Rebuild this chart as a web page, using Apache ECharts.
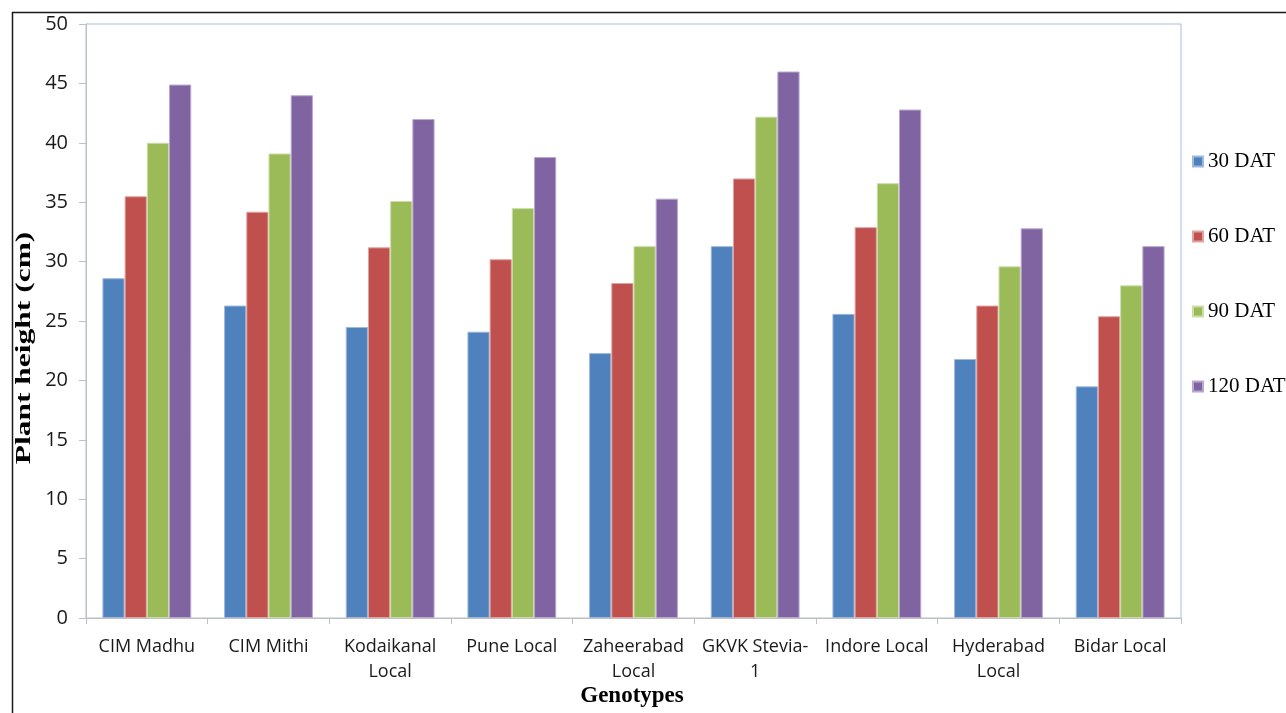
<!DOCTYPE html>
<html>
<head>
<meta charset="utf-8">
<script src="https://cdn.jsdelivr.net/npm/echarts@6/dist/echarts.min.js"></script>
<style>
  html, body { margin: 0; padding: 0; background: #fff; }
  #chart { width: 1286px; height: 713px; }
</style>
</head>
<body>
<div id="chart"></div>
<script>
// Plant height (cm) of stevia genotypes at four stages after transplanting
const genotypes = ['CIM Madhu', 'CIM Mithi', 'Kodaikanal\nLocal', 'Pune Local', 'Zaheerabad\nLocal',
                   'GKVK Stevia-\n1', 'Indore Local', 'Hyderabad\nLocal', 'Bidar Local'];
const stageNames = ['30 DAT', '60 DAT', '90 DAT', '120 DAT'];
const dat30  = [28.6, 26.3, 24.5, 24.1, 22.3, 31.3, 25.6, 21.8, 19.5];
const dat60  = [35.5, 34.2, 31.2, 30.2, 28.2, 37.0, 32.9, 26.3, 25.4];
const dat90  = [40.0, 39.1, 35.1, 34.5, 31.3, 42.2, 36.6, 29.6, 28.0];
const dat120 = [44.9, 44.0, 42.0, 38.8, 35.3, 46.0, 42.8, 32.8, 31.3];
const yTicks = [0, 5, 10, 15, 20, 25, 30, 35, 40, 45, 50];

const seriesValues = [dat30, dat60, dat90, dat120];
const fills = ['#4F81BD', '#C0504D', '#9BBB59', '#8064A2'];
const edges = ['#9DB8DC', '#E0A3A1', '#CADDA8', '#B9A7CF'];

const chart = echarts.init(document.getElementById('chart'), null, { renderer: 'canvas' });

const serif = '"Liberation Serif", "Times New Roman", serif';
const sans = '"Open Sans", "Noto Sans", sans-serif';

chart.setOption({
  animation: false,
  backgroundColor: '#ffffff',
  grid: {
    left: 86, right: 105, top: 24, bottom: 95,
    show: true, borderColor: '#A7BFDE', borderWidth: 1, backgroundColor: 'transparent'
  },
  legend: {
    orient: 'vertical',
    left: 1187, top: 146,
    itemWidth: 10, itemHeight: 10, itemGap: 54,
    icon: 'rect',
    textStyle: { fontFamily: serif, fontSize: 21, color: '#000', lineHeight: 21 },
    data: stageNames
  },
  xAxis: {
    type: 'category',
    data: genotypes,
    axisLine: { lineStyle: { color: '#BFBFBF', width: 1 } },
    axisTick: { show: true, length: 6, lineStyle: { color: '#BFBFBF' } },
    axisLabel: {
      interval: 0, margin: 16,
      fontFamily: sans, fontSize: 18, color: '#1a1a1a', lineHeight: 25
    }
  },
  yAxis: {
    type: 'value',
    min: yTicks[0], max: yTicks[yTicks.length - 1], interval: yTicks[1] - yTicks[0],
    axisLine: { show: true, lineStyle: { color: '#BFBFBF', width: 1 } },
    axisTick: { show: true, length: 7, lineStyle: { color: '#BFBFBF' } },
    splitLine: { show: false },
    axisLabel: { margin: 18, fontFamily: sans, fontSize: 20, color: '#1a1a1a' }
  },
  series: seriesValues.map((vals, i) => ({
    name: stageNames[i],
    type: 'bar',
    data: vals,
    barGap: '0%',
    barCategoryGap: '27%',
    itemStyle: { color: fills[i], borderColor: edges[i], borderWidth: 1 }
  })),
  graphic: [
    {
      type: 'rect', left: 10, top: 10, silent: true,
      shape: { width: 1300, height: 720 },
      style: { fill: 'none', stroke: '#1a1a1a', lineWidth: 1.5 }
    },
    {
      type: 'text', x: 25, y: 348, rotation: Math.PI / 2, scaleX: 1.5, silent: true,
      style: {
        text: 'Plant height (cm)', fontFamily: serif, fontWeight: 'bold', fontSize: 21,
        fill: '#000', align: 'center', verticalAlign: 'middle'
      }
    },
    {
      type: 'text', x: 632, y: 696, silent: true,
      style: {
        text: 'Genotypes', fontFamily: serif, fontWeight: 'bold', fontSize: 23,
        fill: '#000', align: 'center', verticalAlign: 'middle'
      }
    }
  ]
});
</script>
</body>
</html>
